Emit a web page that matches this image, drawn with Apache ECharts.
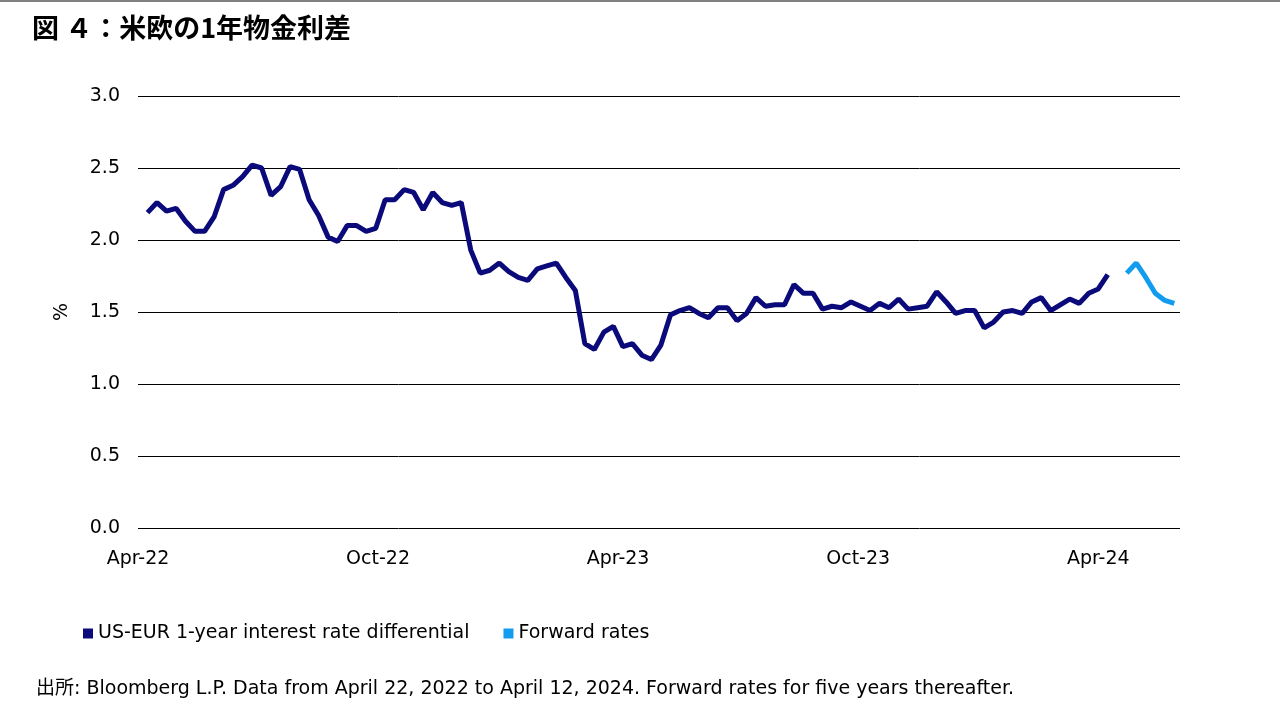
<!DOCTYPE html>
<html><head><meta charset="utf-8">
<script src="https://cdn.jsdelivr.net/npm/echarts@6/dist/echarts.min.js"></script>
<style>html,body{margin:0;padding:0;background:#fff}#c{width:1280px;height:720px}</style>
</head><body><div id="c"></div>
<script>
const title = '図 ４：米欧の1年物金利差';
const source = '出所: Bloomberg L.P. Data from April 22, 2022 to April 12, 2024. Forward rates for five years thereafter.';
const tickLabels = ['Apr-22','Oct-22','Apr-23','Oct-23','Apr-24'];
const seriesNames = ['US-EUR 1-year interest rate differential','Forward rates'];
const actual = [2.19,2.26,2.20,2.22,2.13,2.06,2.06,2.16,2.35,2.38,2.44,2.52,2.50,2.31,2.37,2.51,2.49,2.28,2.17,2.02,1.99,2.10,2.10,2.06,2.08,2.28,2.28,2.35,2.33,2.21,2.33,2.26,2.24,2.26,1.93,1.77,
1.79,1.84,1.78,1.74,1.72,1.80,1.82,1.84,1.74,1.65,1.28,1.24,1.36,1.40,1.26,1.28,1.20,1.17,1.27,1.48,1.51,1.53,1.49,1.46,1.53,1.53,1.44,1.49,1.60,1.54,1.55,1.55,1.69,
1.63,1.63,1.52,1.54,1.53,1.57,1.54,1.51,1.56,1.53,1.59,1.52,1.53,1.54,1.64,1.57,1.49,1.51,1.51,1.39,1.43,1.50,1.51,1.49,1.57,1.60,1.51,1.55,1.59,1.56,1.63,1.66,1.76];
const forward = [1.77,1.84,1.74,1.63,1.58,1.56];

const actualData = actual.map((v,i)=>[i+1,v]);
const fwdData = forward.map((v,i)=>[actual.length+2+i,v]);
const chart = echarts.init(document.getElementById('c'));
const font = '"DejaVu Sans", Verdana, sans-serif';
chart.setOption({
  animation:false,
  textStyle:{fontFamily:font},
  graphic:[
    {type:'line',shape:{x1:0,y1:1,x2:1280,y2:1},style:{stroke:'#000',lineWidth:1}},
    {type:'text',left:32,top:14,style:{text:title,font:'bold 27px "Noto Sans CJK JP"',fill:'#000'}},
    {type:'text',left:36,top:680,style:{text:source,font:'19px "DejaVu Sans", "Noto Sans CJK JP"',fill:'#000'}}
  ],
  grid:{left:138,right:100,top:96,bottom:192},
  legend:{left:78,top:619,itemWidth:10,itemHeight:10,itemGap:34,icon:'rect',
    textStyle:{fontSize:19,color:'#000',fontFamily:font},
    data:seriesNames},
  xAxis:{type:'value',min:0,max:109.6,interval:25.25,
    axisLine:{show:false},axisTick:{show:false},splitLine:{show:false},
    axisLabel:{fontSize:19,color:'#000',margin:22,showMaxLabel:false,fontFamily:font,
      formatter:v=>tickLabels[Math.round(v/25.25)]||''}},
  yAxis:{type:'value',min:0,max:3,interval:0.5,name:'%',nameLocation:'middle',nameGap:66,nameRotate:90,
    nameTextStyle:{fontSize:19,color:'#000',fontFamily:font},
    axisLine:{show:false},axisTick:{show:false},
    splitLine:{lineStyle:{color:'#000',width:1}},
    axisLabel:{fontSize:19,color:'#000',margin:18,fontFamily:font,formatter:v=>v.toFixed(1)}},
  series:[
    {name:seriesNames[0],type:'line',data:actualData,showSymbol:false,
      lineStyle:{color:'#0a0a7a',width:5},itemStyle:{color:'#0a0a7a'}},
    {name:seriesNames[1],type:'line',data:fwdData,showSymbol:false,
      lineStyle:{color:'#129cf0',width:5},itemStyle:{color:'#129cf0'}}
  ]
});
</script></body></html>
